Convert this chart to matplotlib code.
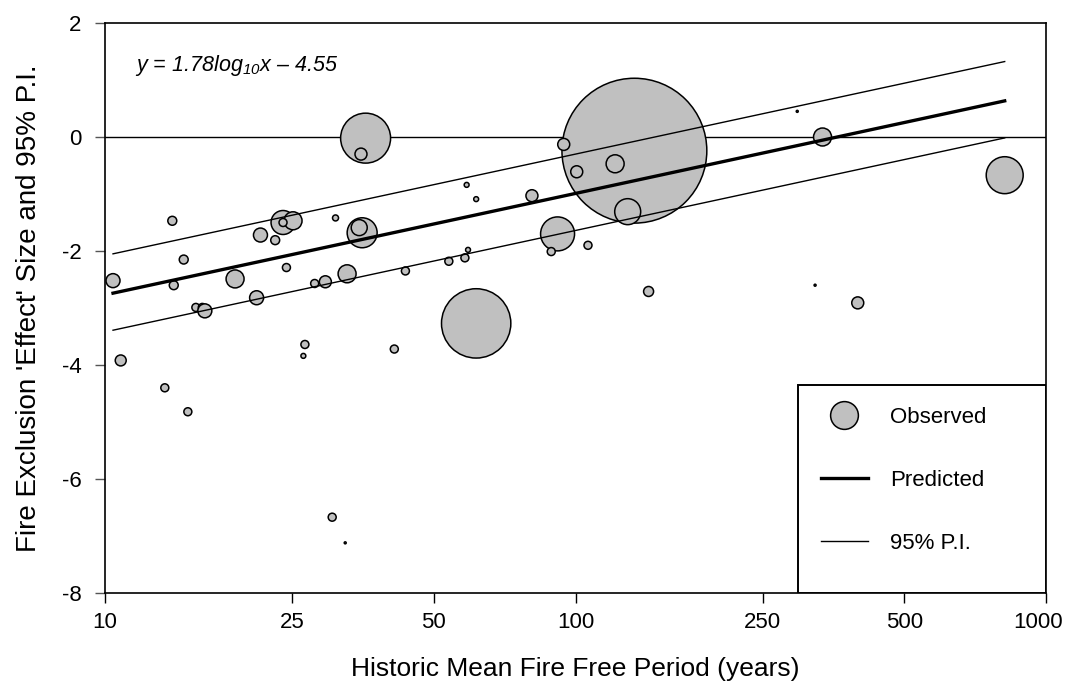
import numpy as np
import matplotlib
matplotlib.use("Agg")
import matplotlib.pyplot as plt
import matplotlib.transforms as mtransforms
from matplotlib.lines import Line2D
from matplotlib.patches import Rectangle

# Fire exclusion effect size vs historic mean fire free period

# observed studies (x = mean fire free period, y = effect size, weight = bubble weight)
mffp = [35.8, 35.0, 13.9, 23.9, 25.1, 23.9, 30.9, 21.4, 23.0, 35.2,
        34.7, 10.4, 14.7, 14.0, 18.9, 24.3, 27.9, 29.4, 32.7, 21.0,
        15.6, 16.1, 16.3, 26.6, 10.8, 13.4, 15.0, 26.4, 41.2, 30.4,
        32.4, 43.5, 133.4, 94.4, 100.6, 121.4, 129.1, 58.7, 61.5, 80.8,
        91.6, 88.8, 106.3, 59.1, 58.2, 53.8, 61.5, 143.0, 296, 335,
        817, 323, 398]
effect = [-0.02, -0.30, -1.47, -1.50, -1.47, -1.50, -1.42, -1.72, -1.81, -1.68,
          -1.59, -2.52, -2.15, -2.60, -2.49, -2.29, -2.57, -2.54, -2.40, -2.82,
          -2.99, -2.99, -3.05, -3.64, -3.92, -4.40, -4.82, -3.84, -3.72, -6.67,
          -7.12, -2.35, -0.24, -0.13, -0.61, -0.47, -1.31, -0.84, -1.09, -1.03,
          -1.70, -2.01, -1.90, -1.98, -2.12, -2.18, -3.27, -2.71, 0.45, 0.00,
          -0.67, -2.60, -2.91]
weight = [625, 36, 20, 144, 81, 16, 9, 49, 20, 225,
          64, 49, 20, 20, 81, 16, 16, 36, 81, 49,
          16, 16, 49, 16, 30, 16, 16, 6, 16, 16,
          1, 16, 5256, 36, 36, 81, 169, 6, 6, 36,
          289, 16, 16, 6, 16, 16, 1204, 25, 1, 81,
          342, 1, 36]

# regression: y = 1.78 log10(x) - 4.55, prediction interval offsets
slope = 1.78
intercept = -4.55
pi_upper = 0.69
pi_lower = -0.65

x_ticks = [10, 25, 50, 100, 250, 500, 1000]
y_ticks = [-8, -6, -4, -2, 0, 2]

plt.rcParams['font.family'] = ['Liberation Sans', 'DejaVu Sans']
plt.rcParams['axes.unicode_minus'] = False
plt.rcParams['mathtext.fontset'] = 'custom'
plt.rcParams['mathtext.rm'] = 'Liberation Sans:italic'
plt.rcParams['mathtext.it'] = 'Liberation Sans:italic'

fig = plt.figure(figsize=(10.65, 6.85), dpi=100)
ax = fig.add_axes([105 / 1065, 92 / 685, 941 / 1065, 570 / 685])

x = np.array(mffp)
y = np.array(effect)
w = np.array(weight)

ax.axhline(0, color='black', lw=1.0, zorder=1)

xl = np.logspace(np.log10(x.min()), np.log10(x.max()), 50)
yl = slope * np.log10(xl) + intercept
ax.plot(xl, yl, color='black', lw=2.4, zorder=3)
ax.plot(xl, yl + pi_upper, color='black', lw=1.0, zorder=3)
ax.plot(xl, yl + pi_lower, color='black', lw=1.0, zorder=3)

ax.scatter(x, y, s=w * 2.07, facecolor='#c0c0c0', edgecolor='black',
           linewidth=1.1, zorder=2)

ax.set_xscale('log')
ax.set_xlim(10, 1000)
ax.set_ylim(-8, 2)
ax.set_xticks(x_ticks)
ax.set_xticklabels([str(t) for t in x_ticks])
ax.xaxis.set_minor_locator(matplotlib.ticker.NullLocator())
ax.set_yticks(y_ticks)
ax.tick_params(axis='both', direction='out', length=7, width=1.0, labelsize=16)
ax.tick_params(axis='y', pad=10, color='#555555')
ax.tick_params(axis='x', pad=7)
for sp in ax.spines.values():
    sp.set_linewidth(1.2)

# nudge the last x label so it stays inside the figure
last = ax.get_xticklabels()[-1]
last.set_transform(last.get_transform() +
                   mtransforms.ScaledTranslation(-6 / 72, 0, fig.dpi_scale_trans))

ax.set_xlabel('Historic Mean Fire Free Period (years)', fontsize=19, labelpad=17)
ax.set_ylabel("Fire Exclusion 'Effect' Size and 95% P.I.", fontsize=20, labelpad=14)

ax.text(0.032, 0.925, r"y = 1.78log$_{10}$x – 4.55", transform=ax.transAxes,
        fontsize=15.5, fontstyle='italic', va='center', ha='left')

# legend box
ax.add_patch(Rectangle((0.7365, 0.0), 0.2635, 0.365, transform=ax.transAxes,
                       facecolor='white', edgecolor='black', lw=1.4, zorder=5))
handles = [
    Line2D([], [], ls='none', marker='o', markersize=20, markerfacecolor='#c0c0c0',
           markeredgecolor='black', markeredgewidth=1.1),
    Line2D([], [], color='black', lw=2.4),
    Line2D([], [], color='black', lw=1.0),
]
leg = ax.legend(handles, ['Observed', 'Predicted', '95% P.I.'], loc='upper left',
                bbox_to_anchor=(0.742, 0.358), frameon=False, fontsize=16,
                handlelength=2.1, handletextpad=1.0, labelspacing=1.9,
                borderpad=0.3)
leg.set_zorder(6)

plt.savefig('out.png', dpi=100)
